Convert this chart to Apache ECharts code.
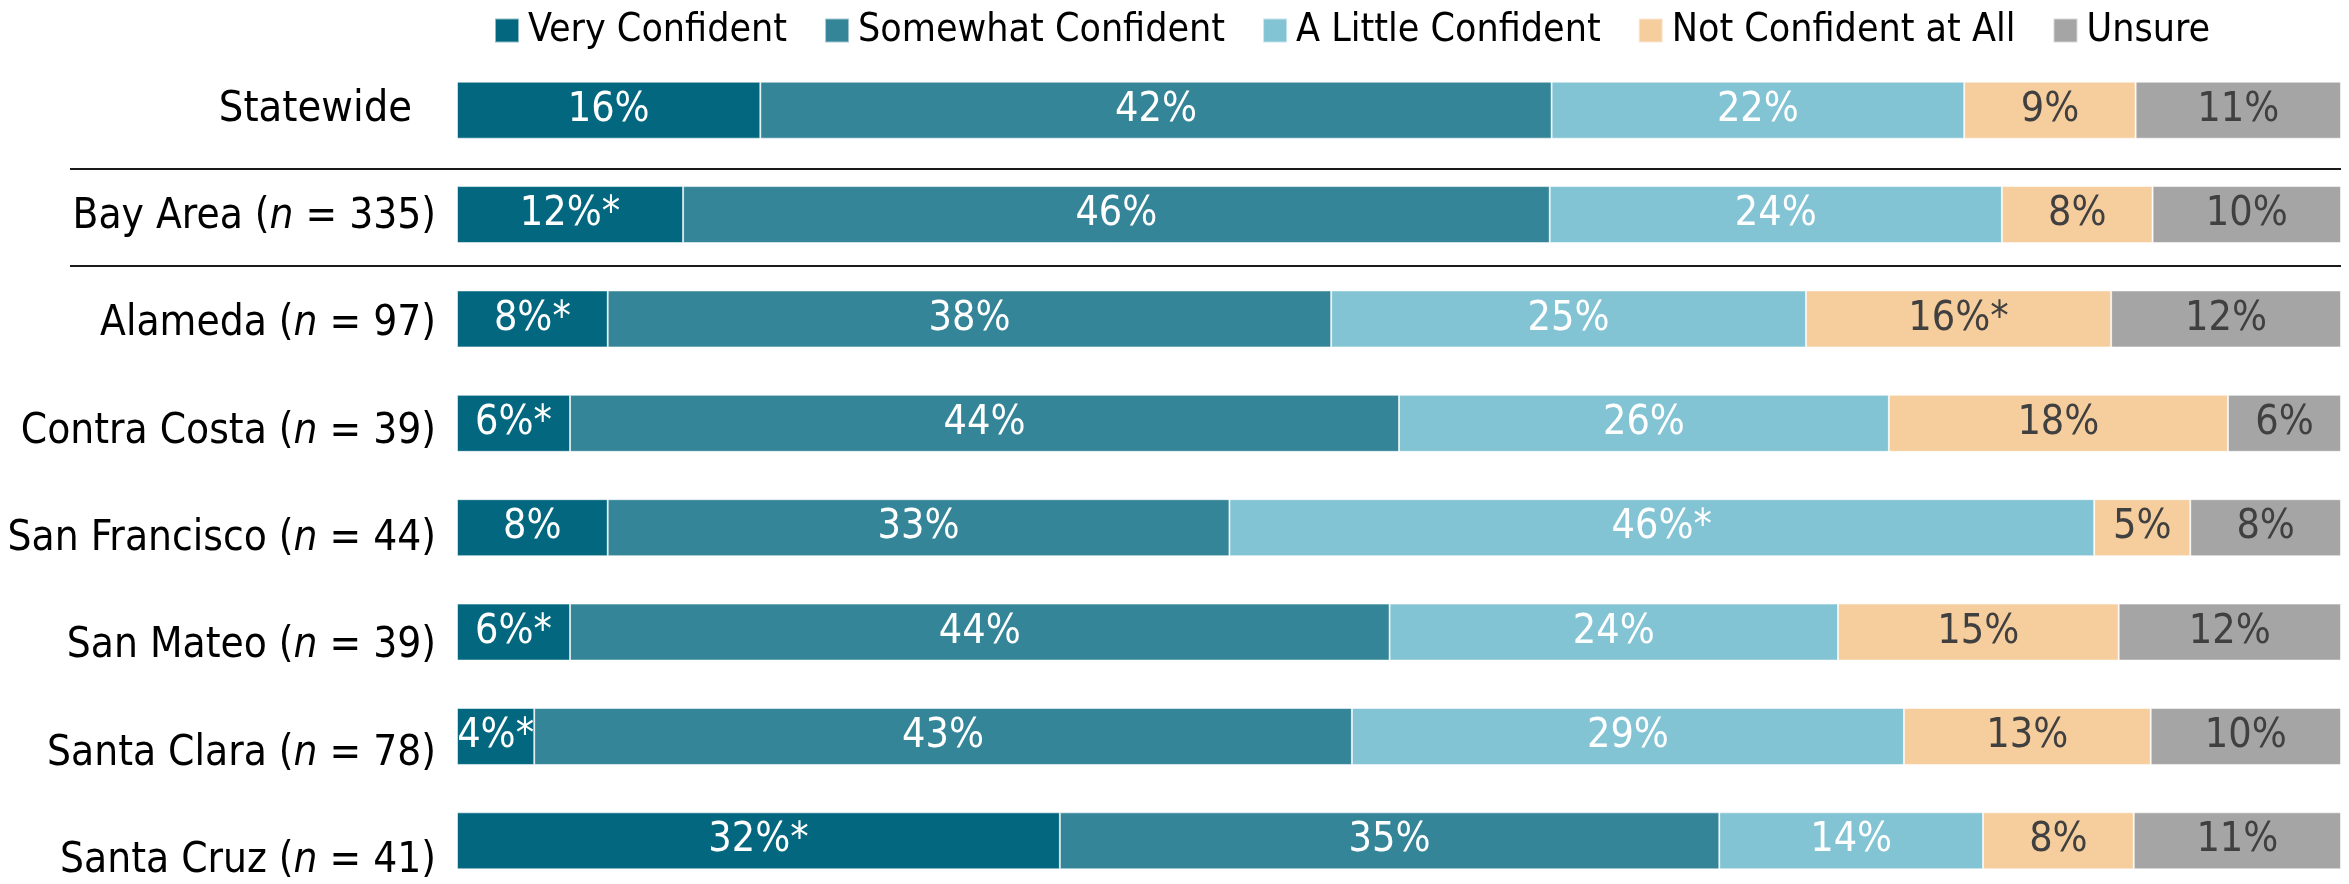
<!DOCTYPE html>
<html>
<head>
<meta charset="utf-8">
<title>Confidence by county</title>
<script src="https://cdn.jsdelivr.net/npm/echarts@6/dist/echarts.min.js"></script>
<style>
  html, body { margin: 0; padding: 0; background: #fff; }
  #chart { width: 2349px; height: 884px; }
</style>
</head>
<body>
<div id="chart"></div>
<script>
const FONT = "'Liberation Sans Narrow', 'DejaVu Sans Condensed', 'Open Sans', sans-serif";

const categories = ["Statewide", "Bay Area", "Alameda", "Contra Costa", "San Francisco", "San Mateo", "Santa Clara", "Santa Cruz"];
const sampleSizes = [null, 335, 97, 39, 44, 39, 78, 41];

const seriesNames = ["Very Confident", "Somewhat Confident", "A Little Confident", "Not Confident at All", "Unsure"];
const veryConfident = [16.1, 12.0, 8.0, 6.0, 8.0, 6.0, 4.1, 32.0];
const somewhatConfident = [42.0, 46.0, 38.4, 44.0, 33.0, 43.5, 43.4, 35.0];
const littleConfident = [21.9, 24.0, 25.2, 26.0, 45.9, 23.8, 29.3, 14.0];
const notConfident = [9.1, 8.0, 16.2, 18.0, 5.1, 14.9, 13.1, 8.0];
const unsure = [10.9, 10.0, 12.2, 6.0, 8.0, 11.8, 10.1, 11.0];

// [series index, category index] of values flagged with an asterisk
const significant = [[0, 1], [0, 2], [0, 3], [0, 5], [0, 6], [0, 7], [2, 4], [3, 2]];

const COLORS = ["#03687f", "#348598", "#82c3d4", "#f6cd9d", "#a5a5a5"];
const LABEL_COLORS = ["#fff", "#fff", "#fff", "#404040", "#404040"];

const chart = echarts.init(document.getElementById("chart"));

const allValues = [veryConfident, somewhatConfident, littleConfident, notConfident, unsure];

const series = allValues.map((data, si) => ({
  name: seriesNames[si],
  type: "bar",
  stack: "total",
  barWidth: 57,
  data,
  itemStyle: { color: COLORS[si], borderColor: "rgba(255,255,255,0.55)", borderWidth: 1 },
  label: {
    show: true,
    position: "inside",
    color: LABEL_COLORS[si],
    fontFamily: FONT,
    fontSize: 41,
    formatter: (p) => {
      const star = significant.some(([s, c]) => s === si && c === p.dataIndex);
      return Math.round(p.value) + "%" + (star ? "*" : "");
    },
  },
  emphasis: { disabled: true },
}));

chart.setOption({
  animation: false,
  color: COLORS,
  textStyle: { fontFamily: FONT },
  legend: {
    top: 6,
    left: 489,
    itemWidth: 24,
    itemHeight: 24,
    itemGap: 37,
    icon: "rect",
    textStyle: { fontFamily: FONT, fontSize: 39, color: "#000", padding: [0, 0, 0, 4] },
    data: seriesNames,
  },
  grid: [
    { left: 457, right: 8, top: 58, height: 835, outerBoundsMode: "none", containLabel: false },
    { left: 457, right: 8, top: 56, height: 859, outerBoundsMode: "none", containLabel: false },
  ],
  xAxis: [
    { gridIndex: 0, type: "value", min: 0, max: 100, show: false },
    { gridIndex: 1, type: "value", min: 0, max: 100, show: false },
  ],
  yAxis: [
    {
      gridIndex: 0,
      type: "category",
      inverse: true,
      data: categories,
      axisLine: { show: false },
      axisTick: { show: false },
      axisLabel: { show: false },
    },
    {
      gridIndex: 1,
      type: "category",
      inverse: true,
      data: categories,
      axisLine: { show: false },
      axisTick: { show: false },
      axisLabel: {
        margin: 21,
        color: "#000",
        fontFamily: FONT,
        fontSize: 42,
        formatter: (v, i) => {
          const n = sampleSizes[i];
          return n == null ? `{p|${v}}` : `${v} ({i|n} = ${n})`;
        },
        rich: {
          i: { fontStyle: "italic", fontFamily: FONT, fontSize: 42, color: "#000" },
          p: { fontFamily: FONT, fontSize: 43, color: "#000", padding: [0, 24, 0, 0] },
        },
      },
    },
  ],
  series,
});

// separator lines under Statewide and Bay Area rows
const lineOffsets = [7, -1];
const lineY = [0, 1].map((i) => {
  const a = chart.convertToPixel({ yAxisIndex: 0 }, categories[i]);
  const b = chart.convertToPixel({ yAxisIndex: 0 }, categories[i + 1]);
  return Math.round((a + b) / 2) + lineOffsets[i];
});
const xEnd = chart.convertToPixel({ xAxisIndex: 0 }, 100);
chart.setOption({
  graphic: lineY.map((y) => ({
    type: "line",
    shape: { x1: 70, y1: y, x2: xEnd, y2: y },
    style: { stroke: "#1a1a1a", lineWidth: 2 },
    silent: true,
  })),
});
</script>
</body>
</html>
